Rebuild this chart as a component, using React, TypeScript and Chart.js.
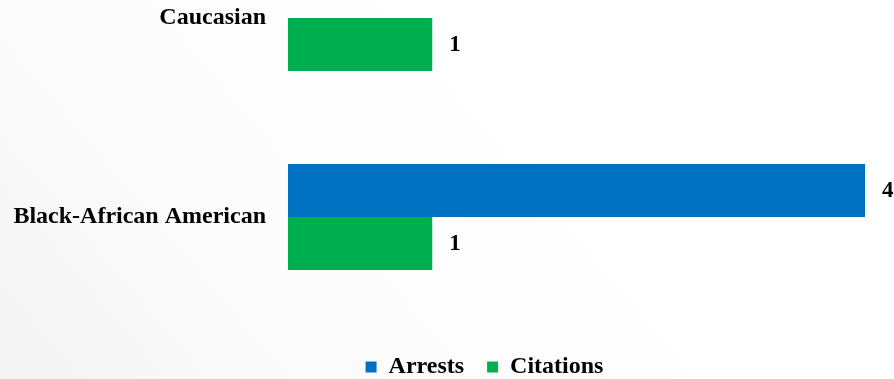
import React, { useEffect, useRef } from "react";
import { Chart, registerables } from "chart.js";

Chart.register(...registerables);

const categories = ["Caucasian", "Black-African American"];
const arrests: (number | null)[] = [null, 4];
const citations: (number | null)[] = [1, 1];
const seriesNames = ["Arrests", "Citations"];
const seriesColors = ["#0070C0", "#00B050"];

const FONT = "'Liberation Serif', 'DejaVu Serif', serif";

const bgPlugin = {
  id: "bgGradient",
  beforeDraw(chart: any) {
    const { ctx, width, height } = chart;
    const g = ctx.createLinearGradient(0, height, width * 0.5, 0);
    g.addColorStop(0, "#f4f4f4");
    g.addColorStop(0.5, "#fcfcfc");
    g.addColorStop(1, "#ffffff");
    ctx.save();
    ctx.fillStyle = g;
    ctx.fillRect(0, 0, width, height);
    ctx.restore();
  },
};

const shiftLegendPlugin = {
  id: "shiftLegend",
  afterLayout(chart: any) {
    const lg = chart.legend;
    if (!lg) return;
    lg.left += 52;
    lg.right += 52;
    lg.top += 10;
    lg.bottom += 10;
  },
};

const labelPlugin = {
  id: "barValueLabels",
  afterDatasetsDraw(chart: any) {
    const { ctx } = chart;
    ctx.save();
    ctx.font = `bold 23px ${FONT}`;
    ctx.fillStyle = "#000";
    ctx.textBaseline = "middle";
    ctx.textAlign = "left";
    chart.data.datasets.forEach((ds: any, di: number) => {
      const meta = chart.getDatasetMeta(di);
      meta.data.forEach((el: any, i: number) => {
        const v = ds.data[i];
        if (v === null || v === undefined) return;
        ctx.fillText(String(v), el.x + 17, el.y + 1);
      });
    });
    ctx.restore();
  },
};

export default function App() {
  const ref = useRef<HTMLCanvasElement>(null);
  useEffect(() => {
    if (!ref.current) return;
    const chart = new Chart(ref.current, {
      type: "bar",
      data: {
        labels: categories,
        datasets: [
          {
            label: seriesNames[0],
            data: arrests,
            backgroundColor: seriesColors[0],
            categoryPercentage: 0.533,
            barPercentage: 1,
            clip: false as any,
          },
          {
            label: seriesNames[1],
            data: citations,
            backgroundColor: seriesColors[1],
            categoryPercentage: 0.533,
            barPercentage: 1,
            clip: false as any,
          },
        ],
      },
      options: {
        indexAxis: "y",
        responsive: false,
        animation: false,
        layout: { padding: { top: 18, right: 29, left: 0, bottom: 0 } },
        scales: {
          x: {
            min: 0,
            max: 4,
            grid: { display: false, drawTicks: false },
            border: { display: false },
            ticks: { display: false },
            afterFit: (s: any) => {
              s.height = 105;
            },
          },
          y: {
            type: "category",
            offset: false,
            grid: { display: false, drawTicks: false },
            border: { display: false },
            ticks: {
              color: "#000",
              padding: 22,
              font: { family: FONT, size: 24, weight: "bold" },
            },
            afterFit: (s: any) => {
              s.width = 288;
              s.paddingTop = 0;
              s.paddingBottom = 0;
            },
          },
        },
        plugins: {
          legend: {
            position: "bottom",
            labels: {
              boxWidth: 11,
              boxHeight: 11,
              padding: 23,
              color: "#000",
              font: { family: FONT, size: 24, weight: "bold" },
            },
          },
          tooltip: { enabled: false },
        },
      },
      plugins: [bgPlugin, shiftLegendPlugin, labelPlugin],
    });
    return () => chart.destroy();
  }, []);
  return (
    <div style={{ position: "fixed", left: 0, top: 0, width: 894, height: 379 }}>
      <canvas ref={ref} width={894} height={379} />
    </div>
  );
}
